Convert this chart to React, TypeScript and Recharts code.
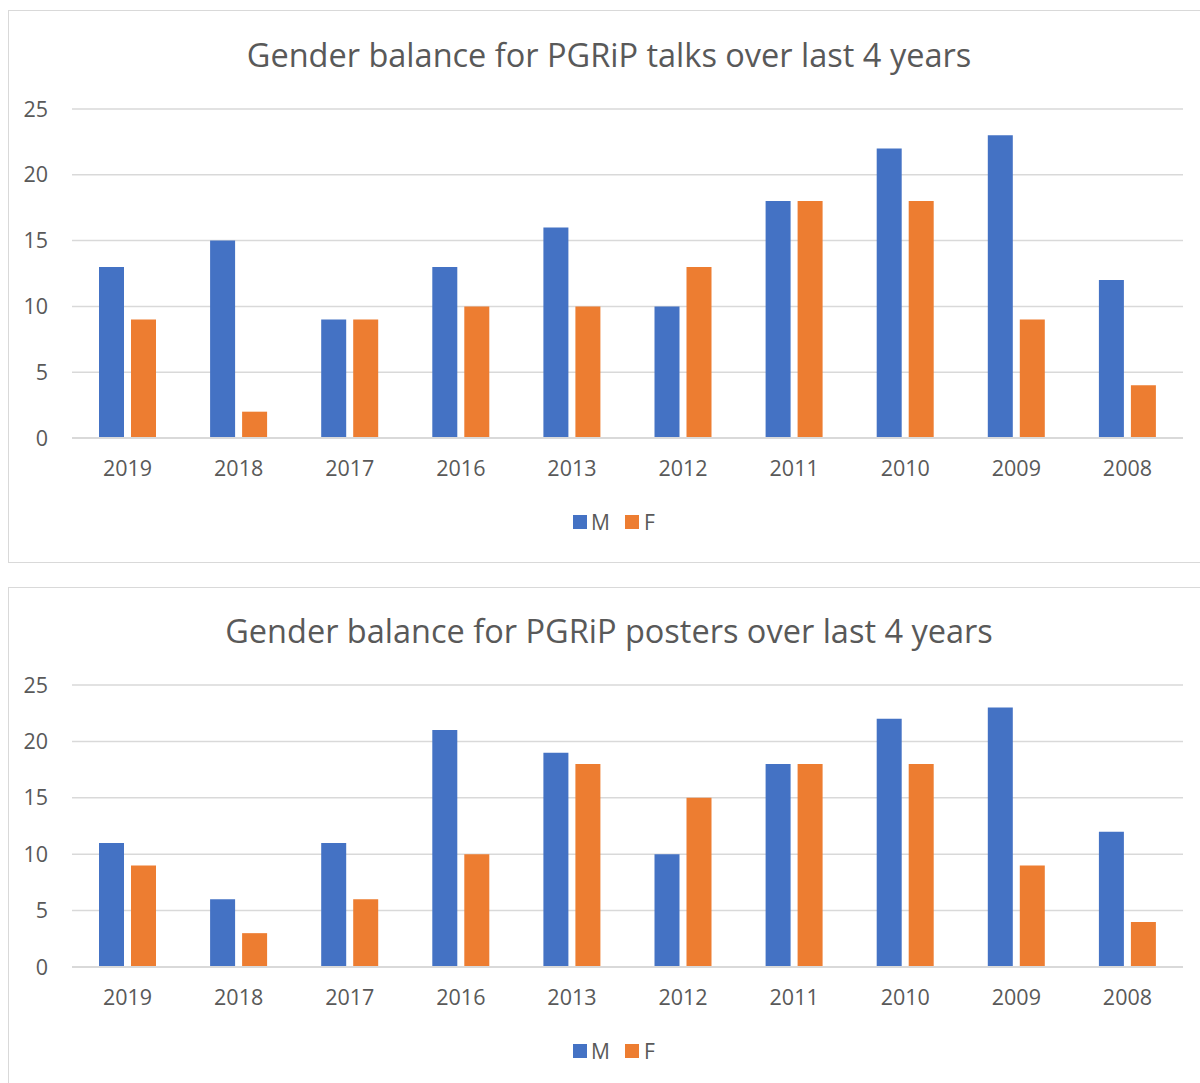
import { BarChart, Bar, XAxis, YAxis, CartesianGrid } from 'recharts';

const years = ['2019', '2018', '2017', '2016', '2013', '2012', '2011', '2010', '2009', '2008'];
const talksM = [13, 15, 9, 13, 16, 10, 18, 22, 23, 12];
const talksF = [9, 2, 9, 10, 10, 13, 18, 18, 9, 4];
const postersM = [11, 6, 11, 21, 19, 10, 18, 22, 23, 12];
const postersF = [9, 3, 6, 10, 18, 15, 18, 18, 9, 4];
const yTicks = [0, 5, 10, 15, 20, 25];

const BLUE = '#4472C4';
const ORANGE = '#ED7D31';
const GRID = '#d9d9d9';
const TEXT = '#595959';
const FONT = '"Open Sans", sans-serif';

function Panel({
  top,
  height,
  title,
  titleY,
  m,
  f,
  plotTop,
  plotBottom,
  legendY,
}: {
  top: number;
  height: number;
  title: string;
  titleY: number;
  m: number[];
  f: number[];
  plotTop: number;
  plotBottom: number;
  legendY: number;
}) {
  const data = years.map((y, i) => ({ year: y, M: m[i], F: f[i] }));
  return (
    <div style={{ position: 'absolute', left: 0, top, width: 1200, height }}>
      {/* title */}
      <div
        style={{
          position: 'absolute',
          left: 0,
          width: 1218,
          top: titleY - 22,
          textAlign: 'center',
          fontSize: 32.5,
          color: TEXT,
          fontFamily: FONT,
          lineHeight: '44px',
        }}
      >
        {title}
      </div>
      <BarChart
        width={1200}
        height={height}
        data={data}
        margin={{ top: plotTop, right: 17, left: 0, bottom: height - plotBottom - 30 }}
        barSize={25}
        barGap={7}
      >
        <CartesianGrid vertical={false} stroke={GRID} strokeWidth={1.5} />
        <XAxis
          dataKey="year"
          height={30}
          axisLine={{ stroke: GRID, strokeWidth: 2 }}
          tickLine={false}
          tickSize={0}
          tickMargin={23}
          tick={{ fill: TEXT, fontSize: 21.5, fontFamily: FONT }}
          interval={0}
        />
        <YAxis
          width={72}
          domain={[0, 25]}
          ticks={yTicks}
          axisLine={false}
          tickLine={false}
          tickSize={0}
          tickMargin={24}
          tick={{ fill: TEXT, fontSize: 21.5, fontFamily: FONT }}
        />
        <Bar dataKey="M" fill={BLUE} isAnimationActive={false} />
        <Bar dataKey="F" fill={ORANGE} isAnimationActive={false} />
      </BarChart>
      {/* legend */}
      <div
        style={{
          position: 'absolute',
          left: 573,
          top: legendY - 12,
          height: 24,
          display: 'flex',
          alignItems: 'center',
          fontFamily: FONT,
          fontSize: 21,
          color: TEXT,
        }}
      >
        <span style={{ width: 14, height: 14, background: BLUE, display: 'inline-block', marginRight: 4 }} />
        <span style={{ marginRight: 15 }}>M</span>
        <span style={{ width: 14, height: 14, background: ORANGE, display: 'inline-block', marginRight: 5 }} />
        <span>F</span>
      </div>
    </div>
  );
}

export default function App() {
  return (
    <div
      style={{
        position: 'absolute',
        left: 0,
        top: 0,
        width: 1200,
        height: 1083,
        overflow: 'hidden',
        background: '#fff',
      }}
    >
      <div
        style={{
          position: 'absolute',
          left: 8,
          top: 10,
          width: 1220,
          height: 551,
          border: `1.5px solid ${GRID}`,
        }}
      />
      <div
        style={{
          position: 'absolute',
          left: 8,
          top: 587,
          width: 1220,
          height: 600,
          border: `1.5px solid ${GRID}`,
        }}
      />
      <Panel
        top={0}
        height={562}
        title="Gender balance for PGRiP talks over last 4 years"
        titleY={55}
        m={talksM}
        f={talksF}
        plotTop={109}
        plotBottom={438}
        legendY={522}
      />
      <Panel
        top={587}
        height={496}
        title="Gender balance for PGRiP posters over last 4 years"
        titleY={631 - 587}
        m={postersM}
        f={postersF}
        plotTop={685 - 587}
        plotBottom={967 - 587}
        legendY={1051 - 587}
      />
    </div>
  );
}
